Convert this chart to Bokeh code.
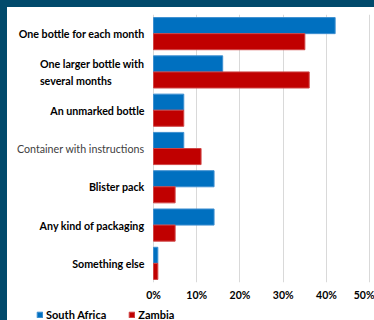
from bokeh.plotting import figure
from bokeh.layouts import column
from bokeh.models import (ColumnDataSource, FactorRange, Range1d, FixedTicker,
                          PrintfTickFormatter, LabelSet, GlobalInlineStyleSheet)
from bokeh.core.properties import value
from bokeh.transform import dodge
from bokeh.embed import file_html
from bokeh.resources import INLINE

categories = [
    "One bottle for each month",
    "One larger bottle with\nseveral months",
    "An unmarked bottle",
    "Container with instructions",
    "Blister pack",
    "Any kind of packaging",
    "Something else",
]
south_africa = [42, 16, 7, 7, 14, 14, 1]
zambia = [35, 36, 7, 11, 5, 5, 1]
x_ticks = [0, 10, 20, 30, 40, 50]
series = ["South Africa", "Zambia"]

BLUE = "#0070C0"
RED = "#C00000"
BLUE_EDGE = "#3d8fd0"
RED_EDGE = "#d04545"
FONT = "Lato"

styles = ["normal" if c.startswith("Container") else "bold" for c in categories]
colors = ["#404040" if c.startswith("Container") else "#000000" for c in categories]

source = ColumnDataSource(dict(cat=categories, sa=south_africa, zm=zambia,
                               zero=[0] * len(categories),
                               style=styles, color=colors))

p = figure(width=367, height=299, output_backend="svg", toolbar_location=None,
           y_range=FactorRange(factors=categories[::-1]),
           x_range=Range1d(-33.76, 51.1),
           min_border_left=0, min_border_right=0, min_border_top=7,
           min_border_bottom=24)
p.outline_line_color = None

p.hbar(y=dodge("cat", 0.21, range=p.y_range), right="sa", height=0.42, source=source,
       fill_color=BLUE, line_color=BLUE_EDGE, line_width=1)
p.hbar(y=dodge("cat", -0.21, range=p.y_range), right="zm", height=0.42, source=source,
       fill_color=RED, line_color=RED_EDGE, line_width=1)

labels = LabelSet(x="zero", y="cat", text="cat", source=source, x_offset=-9,
                  text_align="right", text_baseline="middle",
                  text_font=value(FONT), text_font_size="10.7px",
                  text_line_height=1.3,
                  text_font_style="style", text_color="color")
p.add_layout(labels)

p.yaxis.visible = False
p.ygrid.grid_line_color = None

p.xaxis.ticker = FixedTicker(ticks=x_ticks)
p.xgrid.ticker = FixedTicker(ticks=x_ticks)
p.xgrid.grid_line_color = "#D9D9D9"
p.xgrid.grid_line_width = 1
p.xaxis.formatter = PrintfTickFormatter(format="%d%%")
p.xaxis.axis_line_color = None
p.xaxis.major_tick_line_color = None
p.xaxis.minor_tick_line_color = None
p.xaxis.major_tick_out = 0
p.xaxis.minor_tick_out = 0
p.xaxis.major_label_standoff = 6
p.xaxis.major_label_text_font = FONT
p.xaxis.major_label_text_font_style = "bold"
p.xaxis.major_label_text_font_size = "10.5px"
p.xaxis.major_label_text_color = "#000000"

# legend strip under the chart (its bars lie outside its visible y range)
pl = figure(width=367, height=14, output_backend="svg", toolbar_location=None,
            x_range=Range1d(-33.76, 51.1), y_range=Range1d(1, 2),
            min_border_left=0, min_border_right=0, min_border_top=0,
            min_border_bottom=0)
pl.outline_line_color = None
pl.axis.visible = False
pl.grid.visible = False
pl.hbar(y="zero", right="sa", height=0.42, source=source, fill_color=BLUE,
        line_color=BLUE_EDGE, legend_label=series[0])
pl.hbar(y="zero", right="zm", height=0.42, source=source, fill_color=RED,
        line_color=RED_EDGE, legend_label=series[1])

lg = pl.legend[0]
lg.orientation = "horizontal"
lg.location = (29, -1)
lg.border_line_color = None
lg.background_fill_alpha = 0
lg.padding = 0
lg.margin = 0
lg.spacing = 22
lg.glyph_width = 7
lg.glyph_height = 7
lg.label_height = 12
lg.label_standoff = 3
lg.label_text_font = FONT
lg.label_text_font_size = "11px"
lg.label_text_font_style = "bold"
lg.label_text_color = "#000000"

layout = column(p, pl, spacing=0)
layout.stylesheets = [GlobalInlineStyleSheet(css=(
    "html{background:linear-gradient(to right,#014A6B 7px,transparent 7px),"
    "linear-gradient(to bottom,#014A6B 7px,#ffffff 7px);}"
    "body{padding:7px 0 0 7px !important;}"))]

open("out.html", "w").write(file_html(layout, INLINE))
